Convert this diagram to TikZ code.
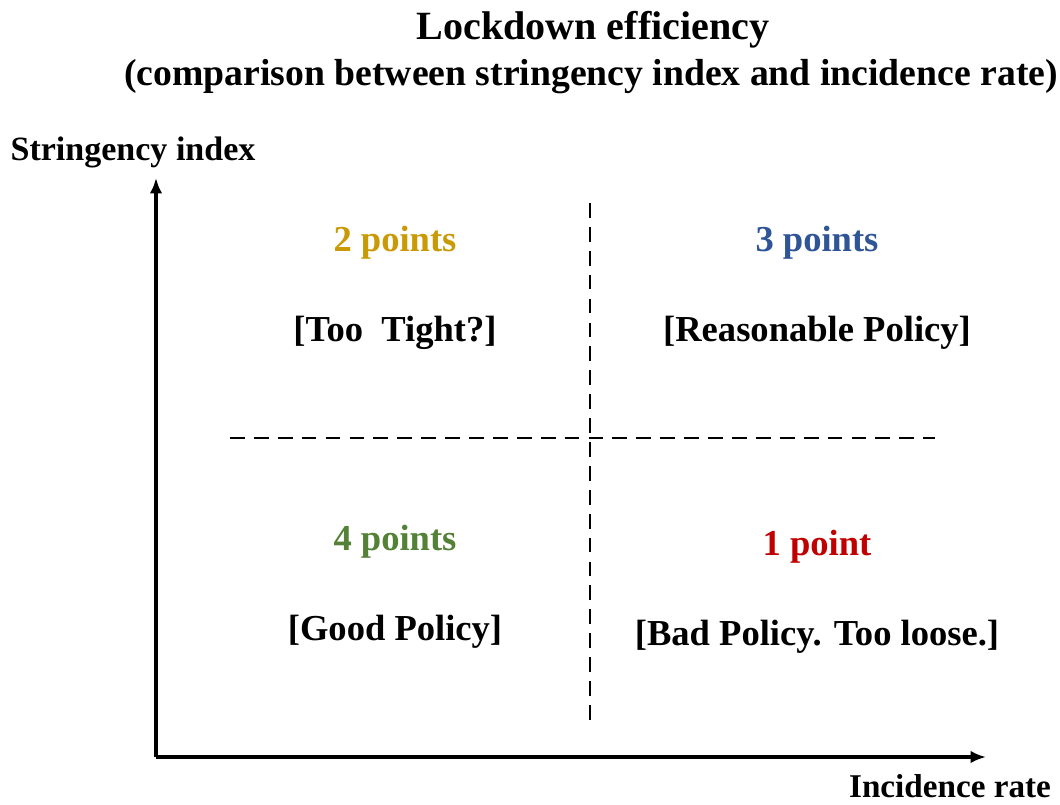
\documentclass[tikz,border=0pt]{standalone}
\usepackage{fontspec}
\setmainfont{Liberation Serif}
\usepackage{tikz}
\usetikzlibrary{arrows.meta}
\tikzset{>=latex}
\definecolor{twocol}{RGB}{201,154,6}
\definecolor{threecol}{RGB}{47,85,151}
\definecolor{fourcol}{RGB}{83,129,53}
\definecolor{onecol}{RGB}{192,0,0}
\tikzset{
  axis/.style={line width=2.2pt, -{Latex[length=11pt,width=9pt]}},
  split/.style={line width=1.8pt, dash pattern=on 10.5pt off 6.5pt},
  score/.style={font=\fontsize{26}{30}\selectfont\bfseries},
  verdict/.style={font=\fontsize{26}{30}\selectfont\bfseries},
}
\begin{document}
\begin{tikzpicture}[x=0.025cm, y=-0.025cm]
\useasboundingbox (0,0) rectangle (1060,804);
% titles
\node (title) at (593, 30) {\fontsize{28.5}{32}\selectfont\bfseries Lockdown efficiency};
\node (subtitle) at (591, 77) {\fontsize{26.8}{32}\selectfont\bfseries (comparison between stringency index and incidence rate)};
% axes
\coordinate (origin) at (156, 757);
\coordinate (ytop) at (156, 178);
\coordinate (xend) at (986, 757);
\draw[axis] (origin) -- (ytop);
\draw[axis] (origin) -- (xend);
\node (ylabel) at (133, 152) {\fontsize{24.2}{28}\selectfont\bfseries Stringency index};
\node[inner sep=0pt] (xlabel) at (950, 786) {\fontsize{23.6}{28}\selectfont\bfseries Incidence rate};
% quadrant splits
\coordinate (vtop) at (590, 203);
\coordinate (vbot) at (590, 722);
\coordinate (hleft) at (230, 438);
\coordinate (hright) at (935, 438);
\draw[split] (vtop) -- (vbot);
\draw[split] (hleft) -- (hright);
% quadrants
\node[score, twocol] (two) at (395, 243) {2 points};
\node[verdict] (tight) at (395, 333) {[Too\ \ Tight?]};
\node[score, threecol] (three) at (817, 243) {3 points};
\node[verdict] (reasonable) at (817, 333) {[Reasonable Policy]};
\node[score, fourcol] (four) at (395, 542) {4 points};
\node[verdict] (good) at (395, 632) {[Good Policy]};
\node[score, onecol] (one) at (817, 547) {1 point};
\node[verdict] (bad) at (817, 637) {[Bad Policy. Too loose.]};

\end{tikzpicture}
\end{document}
